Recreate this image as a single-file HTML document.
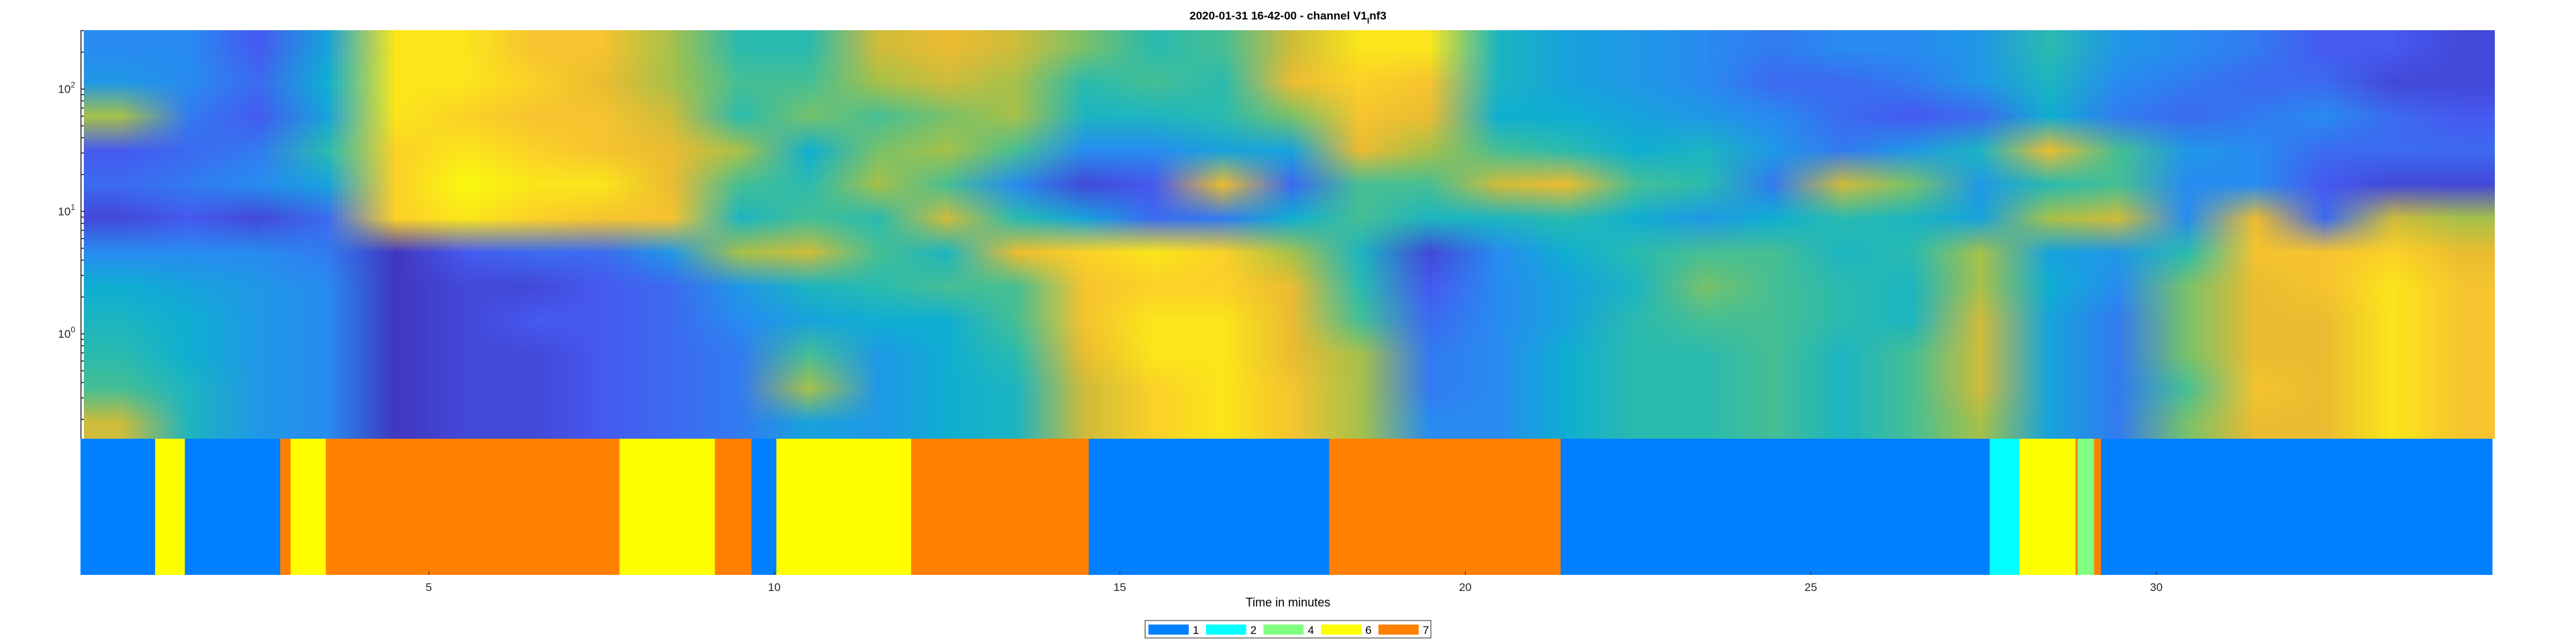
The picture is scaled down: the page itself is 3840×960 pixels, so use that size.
<!DOCTYPE html>
<html><head><meta charset="utf-8">
<style>
body{margin:0;background:#fff;width:3840px;height:960px;overflow:hidden;position:relative;font-family:"Liberation Sans",sans-serif;}
#spec{position:absolute;left:125px;top:45px;width:3594px;height:609px;image-rendering:auto;}
svg{position:absolute;left:0;top:0;}
</style></head>
<body>
<canvas id="spec" width="35" height="12"></canvas>
<svg id="ov" width="3840" height="960">
<text x="1920" y="29" text-anchor="middle" font-size="17" font-weight="bold">2020-01-31 16-42-00 - channel V1<tspan font-size="12" dy="6">I</tspan><tspan dy="-6">nf3</tspan></text>
<text x="1920" y="904" text-anchor="middle" font-size="18">Time in minutes</text>
<g id="segs"></g>
<g id="yax"></g>
<g id="xax"></g>
<g id="leg"></g>
</svg>
<script>
// heatmap data: columns = minutes 0..34, rows top(high freq)->bottom
const specRows = [
[0.3,0.3,0.15,0.4,0.95,0.95,0.85,0.85,0.7,0.55,0.55,0.75,0.8,0.75,0.65,0.55,0.6,0.75,0.95,0.95,0.5,0.4,0.35,0.3,0.25,0.3,0.3,0.35,0.55,0.35,0.3,0.25,0.15,0.15,0.1],
[0.35,0.3,0.2,0.45,0.95,0.95,0.9,0.8,0.7,0.6,0.6,0.7,0.75,0.7,0.55,0.6,0.55,0.8,0.9,0.85,0.5,0.4,0.35,0.3,0.2,0.2,0.25,0.35,0.5,0.3,0.25,0.2,0.2,0.1,0.1],
[0.7,0.25,0.15,0.4,0.95,0.9,0.85,0.85,0.75,0.55,0.65,0.6,0.65,0.7,0.5,0.5,0.55,0.65,0.85,0.8,0.45,0.45,0.4,0.35,0.3,0.2,0.15,0.2,0.45,0.25,0.2,0.25,0.3,0.2,0.15],
[0.15,0.2,0.25,0.55,0.9,0.95,0.9,0.85,0.8,0.7,0.45,0.65,0.7,0.6,0.3,0.3,0.4,0.4,0.8,0.7,0.6,0.55,0.45,0.5,0.35,0.25,0.35,0.5,0.8,0.6,0.35,0.3,0.2,0.2,0.2],
[0.2,0.25,0.3,0.4,0.9,1.0,0.95,0.95,0.8,0.6,0.55,0.7,0.6,0.3,0.1,0.15,0.8,0.2,0.6,0.6,0.75,0.8,0.6,0.55,0.25,0.75,0.65,0.35,0.55,0.6,0.3,0.3,0.15,0.1,0.1],
[0.1,0.15,0.1,0.2,0.9,0.95,0.9,0.85,0.85,0.5,0.6,0.55,0.75,0.55,0.4,0.2,0.25,0.45,0.6,0.5,0.5,0.55,0.45,0.35,0.45,0.55,0.5,0.4,0.7,0.75,0.3,0.8,0.2,0.75,0.7],
[0.3,0.3,0.3,0.25,0.05,0.15,0.2,0.2,0.35,0.7,0.75,0.6,0.5,0.8,0.9,0.95,0.9,0.7,0.5,0.1,0.3,0.45,0.55,0.6,0.6,0.5,0.55,0.7,0.4,0.35,0.55,0.85,0.85,0.9,0.8],
[0.45,0.4,0.35,0.3,0.05,0.1,0.1,0.15,0.2,0.35,0.5,0.55,0.6,0.6,0.85,0.9,0.9,0.8,0.55,0.15,0.3,0.4,0.5,0.65,0.6,0.55,0.5,0.7,0.45,0.3,0.65,0.8,0.85,0.95,0.85],
[0.5,0.45,0.35,0.3,0.05,0.1,0.15,0.15,0.2,0.3,0.4,0.45,0.45,0.6,0.85,0.95,0.95,0.8,0.6,0.2,0.3,0.4,0.55,0.6,0.6,0.55,0.5,0.75,0.4,0.25,0.65,0.8,0.8,0.95,0.85],
[0.55,0.45,0.35,0.3,0.05,0.1,0.1,0.15,0.2,0.25,0.6,0.35,0.45,0.55,0.8,0.95,0.95,0.8,0.7,0.25,0.3,0.45,0.55,0.55,0.6,0.5,0.6,0.75,0.4,0.25,0.65,0.8,0.8,0.95,0.85],
[0.6,0.5,0.35,0.3,0.05,0.1,0.1,0.15,0.2,0.25,0.7,0.35,0.45,0.5,0.75,0.9,0.95,0.85,0.7,0.25,0.3,0.45,0.55,0.55,0.6,0.5,0.6,0.75,0.4,0.25,0.6,0.85,0.8,0.95,0.85],
[0.75,0.5,0.35,0.3,0.05,0.1,0.1,0.15,0.2,0.25,0.4,0.35,0.45,0.5,0.75,0.9,0.95,0.85,0.7,0.3,0.3,0.45,0.55,0.55,0.6,0.5,0.6,0.7,0.4,0.25,0.65,0.8,0.8,0.95,0.85]
];
// state strip segments
const segEnds = [1.04,1.47,2.85,3.0,3.51,7.76,9.14,9.67,10.03,11.98,14.55,18.03,21.38,27.59,28.02,28.83,28.86,29.1,29.2,34.86];
const segStates = [1,6,1,7,6,7,6,7,1,6,7,1,7,1,2,6,7,4,7,1];
const xTicks = [5,10,15,20,25,30];
const yDecades = [0,1,2];
const legendStates = [1,2,4,6,7];
const stateColors = {1:'#0080ff',2:'#00ffff',4:'#80ff80',6:'#ffff00',7:'#ff8000'};

const NS='http://www.w3.org/2000/svg';
const tMin=-0.04, tMax=34.86, xL=120, xR=3715;
const X=t=>xL+(t-tMin)/(tMax-tMin)*(xR-xL);
const Y=v=>497.7-Math.log10(v)*182.5;
function mk(tag,attrs,parent){const e=document.createElementNS(NS,tag);for(const k in attrs)e.setAttribute(k,attrs[k]);parent.appendChild(e);return e;}

// parula-like colormap
const stops=[[0,[62,38,168]],[0.15,[70,90,240]],[0.3,[40,140,240]],[0.45,[15,175,210]],[0.58,[50,190,165]],[0.68,[150,195,80]],[0.78,[230,185,50]],[0.88,[253,200,45]],[1,[249,251,14]]];
function cmap(v){v=Math.max(0,Math.min(1,v));for(let i=1;i<stops.length;i++){if(v<=stops[i][0]){const a=stops[i-1],b=stops[i],f=(v-a[0])/(b[0]-a[0]);return a[1].map((c,j)=>Math.round(c+(b[1][j]-c)*f));}}return stops[stops.length-1][1];}
const cv=document.getElementById('spec'),ctx=cv.getContext('2d');
const img=ctx.createImageData(35,12);
specRows.forEach((row,r)=>row.forEach((v,c)=>{const col=cmap(v),i=(r*35+c)*4;img.data[i]=col[0];img.data[i+1]=col[1];img.data[i+2]=col[2];img.data[i+3]=255;}));
ctx.putImageData(img,0,0);

// strip
const sg=document.getElementById('segs');
let prev=tMin;
segEnds.forEach((e,i)=>{
  const r=mk('rect',{x:X(prev),y:654,width:X(e)-X(prev)+0.5,height:203,fill:stateColors[segStates[i]]},sg);
  
  
  prev=e;
});

// y axis
const ya=document.getElementById('yax');
mk('line',{x1:120.7,y1:45,x2:120.7,y2:654,stroke:'#262626','stroke-width':1.5},ya);
for(let k=-1;k<=2;k++)for(let m=1;m<=9;m++){const v=m*Math.pow(10,k),y=Y(v);if(y<45||y>654)continue;mk('line',{x1:120.7,y1:y,x2:m==1?126:125,y2:y,stroke:'#262626','stroke-width':1.5},ya);}
yDecades.forEach(d=>{
  const t=mk('text',{x:112,y:Y(Math.pow(10,d))+6,'text-anchor':'end','font-size':17,fill:'#262626'},ya);
  
  
  t.innerHTML='10<tspan font-size="12" dy="-8">'+d+'</tspan>';
});
// x axis
const xa=document.getElementById('xax');
xTicks.forEach(v=>{
  mk('line',{x1:X(v),y1:857,x2:X(v),y2:852,stroke:'#262626'},xa);
  const t=mk('text',{x:X(v),y:881,'text-anchor':'middle','font-size':17,fill:'#262626'},xa);
  
  
  t.textContent=v;
});
// legend
const lg=document.getElementById('leg');
mk('rect',{x:1707,y:925,width:426,height:26,fill:'#fff',stroke:'#262626','stroke-width':1},lg);
legendStates.forEach((s,i)=>{
  const x0=1712+i*85.7;
  const r=mk('rect',{x:x0,y:931,width:60,height:15,fill:stateColors[s]},lg);
  
  
  const t=mk('text',{x:x0+66,y:945,'font-size':17,fill:'#000'},lg);
  
  
  t.textContent=s;
});
</script>
</body></html>
